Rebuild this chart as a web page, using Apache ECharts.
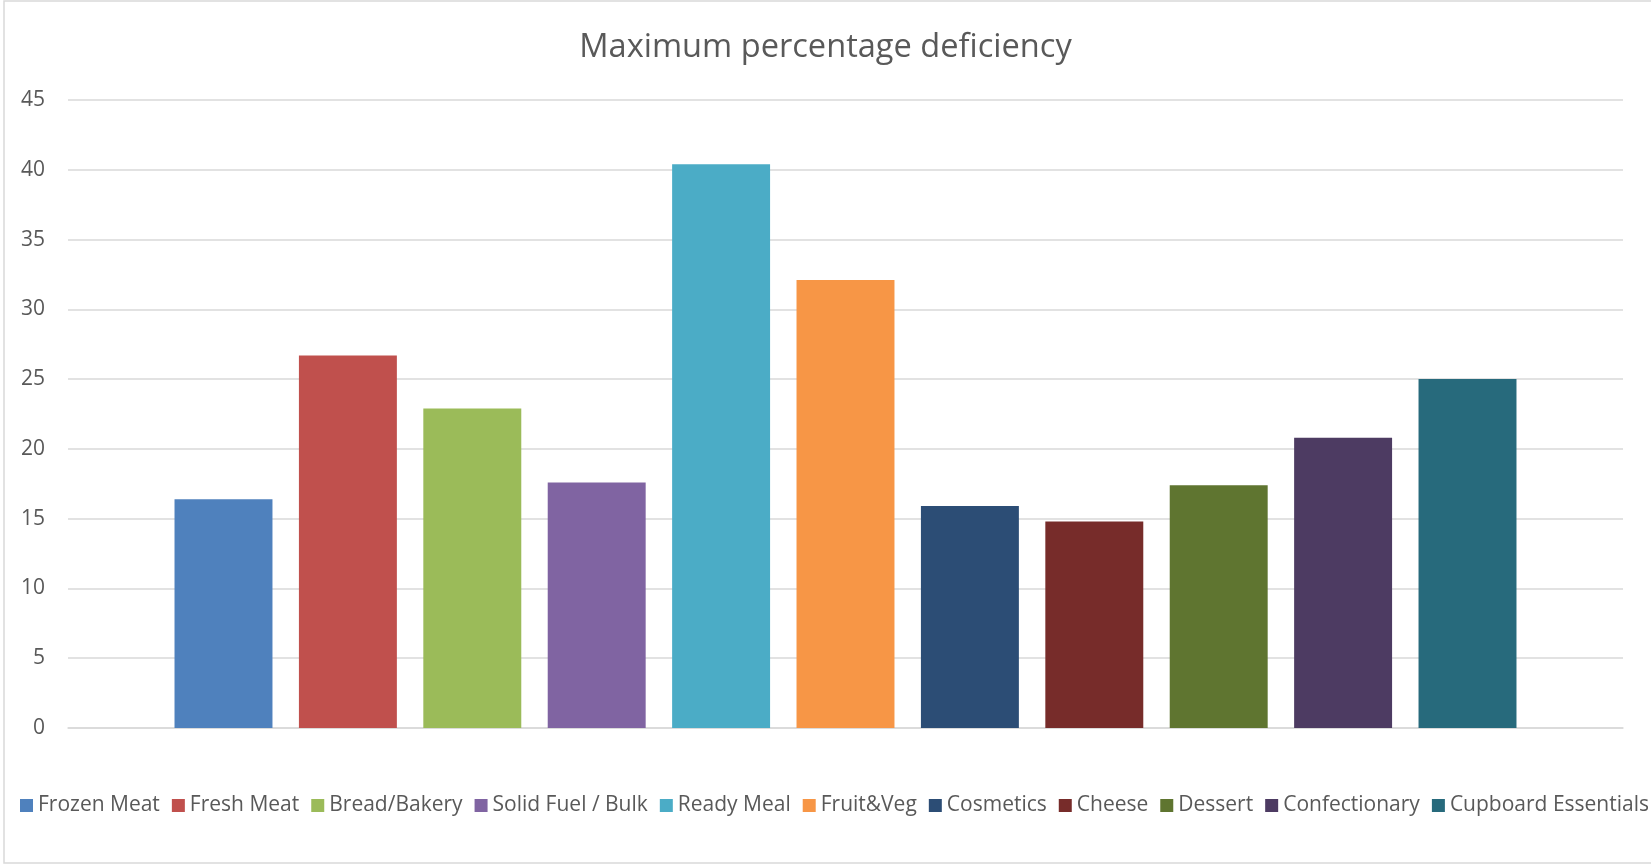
<!DOCTYPE html>
<html>
<head>
<meta charset="utf-8">
<script src="https://cdn.jsdelivr.net/npm/echarts@6/dist/echarts.min.js"></script>
<style>
  html, body { margin: 0; padding: 0; background: #fff; }
  #main { width: 1651px; height: 864px; }
</style>
</head>
<body>
<div id="main"></div>
<script>
// 系列名称（图例）
const seriesNames = ['Frozen Meat', 'Fresh Meat', 'Bread/Bakery', 'Solid Fuel / Bulk', 'Ready Meal',
  'Fruit&Veg', 'Cosmetics', 'Cheese', 'Dessert', 'Confectionary', 'Cupboard Essentials']
// 每个系列的数值
const seriesValues = [16.4, 26.7, 22.9, 17.6, 40.4, 32.1, 15.9, 14.8, 17.4, 20.8, 25.0]
// 颜色
const seriesColors = ['#4f81bd', '#c0504d', '#9bbb59', '#8064a2', '#4bacc6',
  '#f79646', '#2c4d75', '#772c2a', '#5f7530', '#4d3b62', '#276a7c']
// 只有一个类目
const categories = ['']
// y轴刻度
const yTicks = [0, 5, 10, 15, 20, 25, 30, 35, 40, 45]

const myChart = echarts.init(document.querySelector('#main'))

const font = '"Open Sans", sans-serif'

option = {
  animation: false,
  textStyle: { fontFamily: font },
  // 标题
  title: {
    text: 'Maximum percentage deficiency',
    left: 'center',
    top: 26,
    textStyle: { fontFamily: font, fontSize: 32.6, fontWeight: 'normal', color: '#595959' }
  },
  // 外框
  graphic: [{
    type: 'rect',
    shape: { x: 4, y: 1, width: 1660, height: 862 },
    style: { fill: 'none', stroke: '#d9d9d9', lineWidth: 1.5 },
    silent: true
  }],
  grid: { left: 68, right: 28, top: 100, bottom: 136 },
  legend: {
    bottom: 43,
    left: 15,
    width: 1700,
    itemWidth: 13,
    itemHeight: 13,
    itemGap: 12,
    icon: 'rect',
    textStyle: { fontFamily: font, fontSize: 21, color: '#595959' },
    data: seriesNames
  },
  xAxis: {
    type: 'category',
    data: categories,
    axisLine: { lineStyle: { color: '#d9d9d9', width: 1.5 } },
    axisTick: { show: false },
    axisLabel: { show: false }
  },
  yAxis: {
    type: 'value',
    min: yTicks[0],
    max: yTicks[yTicks.length - 1],
    interval: 5,
    axisLine: { show: false },
    axisTick: { show: false },
    axisLabel: { margin: 23, fontFamily: font, fontSize: 21, color: '#595959' },
    splitLine: { lineStyle: { color: '#d9d9d9', width: 1.5 } }
  },
  series: seriesNames.map((name, i) => ({
    name: name,
    type: 'bar',
    data: [seriesValues[i]],
    barGap: '27%',
    barCategoryGap: '13.7%',
    itemStyle: { color: seriesColors[i] }
  }))
}

myChart.setOption(option)
</script>
</body>
</html>
